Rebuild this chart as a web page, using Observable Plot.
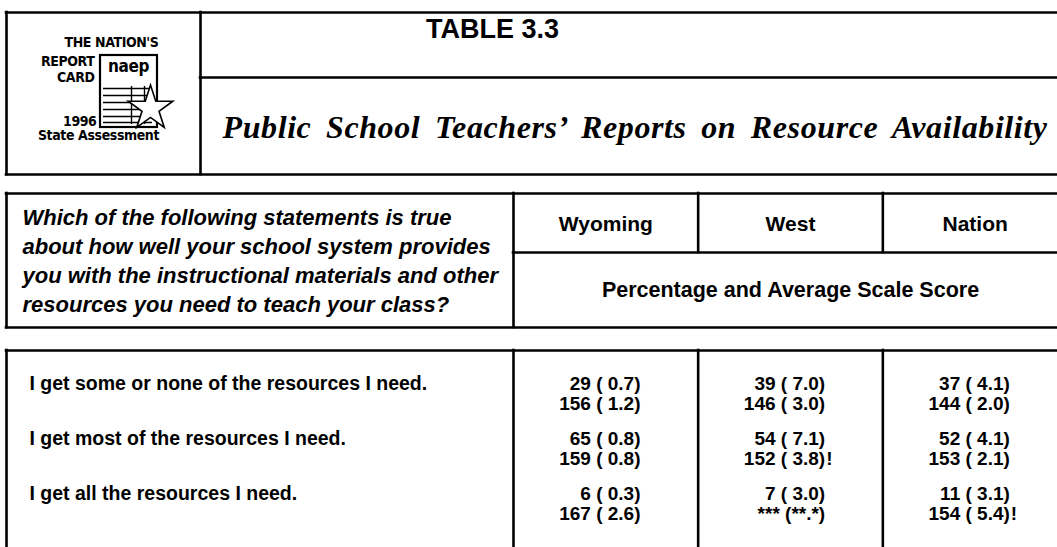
<!DOCTYPE html>
<html><head><meta charset="utf-8">
<script src="https://cdn.jsdelivr.net/npm/d3@7"></script>
<script src="https://cdn.jsdelivr.net/npm/@observablehq/plot@0.6"></script>
<style>
html,body{margin:0;padding:0;background:#fff;}
#chart{width:1057px;height:547px;overflow:hidden;}
</style></head><body><div id="chart"></div>
<script>
// ---------------- data ----------------
const tableNumber = "TABLE 3.3";
const tableTitle = "Public School Teachers’ Reports on Resource Availability";
const logoLines = ["THE NATION'S", "REPORT", "CARD"];
const logoYear = "1996";
const logoFooter = "State Assessment";
const logoMark = "naep";
const questionLines = [
  "Which of the following statements is true",
  "about how well your school system provides",
  "you with the instructional materials and other",
  "resources you need to teach your class?"
];
const jurisdictions = ["Wyoming", "West", "Nation"];
const measureLabel = "Percentage and Average Scale Score";
const responses = [
  "I get some or none of the resources I need.",
  "I get most of the resources I need.",
  "I get all the resources I need."
];
const wyomingPct = [29, 65, 6];
const wyomingPctSE = [0.7, 0.8, 0.3];
const wyomingScore = [156, 159, 167];
const wyomingScoreSE = [1.2, 0.8, 2.6];
const wyomingFlag = ["", "", ""];
const westPct = [39, 54, 7];
const westPctSE = [7.0, 7.1, 3.0];
const westScore = [146, 152, null];
const westScoreSE = [3.0, 3.8, null];
const westFlag = ["", "!", ""];
const nationPct = [37, 52, 11];
const nationPctSE = [4.1, 4.1, 3.1];
const nationScore = [144, 153, 154];
const nationScoreSE = [2.0, 2.1, 5.4];
const nationFlag = ["", "", "!"];

// ---------------- layout (positions / sizes only) ----------------
const layout = {
  W: 1057, H: 547, left: 6,
  headTop: 12, headMid: 77, headBot: 174, headDiv: 200,
  qTop: 193, qMid: 252, qBot: 327,
  dTop: 350, bottom: 547,
  labelDiv: 513, tableRight: 1067,
  rowTop: 356, rowBottom: 521, scoreOffset: 20,
  valueInset: 127
};
const sans = "'Liberation Sans', Arial, Helvetica, sans-serif";
const serif = "'Liberation Serif', 'Times New Roman', serif";
const narrow = "'DejaVu Sans Condensed', 'DejaVu Sans', sans-serif";

// ---------------- build table ----------------
const colScale = Plot.scale({x: {type: "band", domain: jurisdictions, range: [layout.labelDiv, layout.tableRight], padding: 0}});
const rowScale = Plot.scale({y: {type: "band", domain: responses, range: [layout.rowTop, layout.rowBottom], padding: 0}});
const bw = colScale.bandwidth, rh = rowScale.bandwidth;
const colX = j => colScale.apply(j);
const rowY = r => rowScale.apply(r) + rh / 2;

const series = {
  Wyoming: [wyomingPct, wyomingPctSE, wyomingScore, wyomingScoreSE, wyomingFlag],
  West: [westPct, westPctSE, westScore, westScoreSE, westFlag],
  Nation: [nationPct, nationPctSE, nationScore, nationScoreSE, nationFlag]
};
const cells = [];
for (const j of jurisdictions) {
  const [p, pse, s, sse, f] = series[j];
  responses.forEach((r, i) => {
    cells.push({jur: j, resp: r, line: 0, text: `${p[i]} ( ${pse[i].toFixed(1)})`, flag: ""});
    cells.push({jur: j, resp: r, line: 1,
      text: s[i] == null ? "*** (**.*)" : `${s[i]} ( ${sse[i].toFixed(1)})`, flag: f[i]});
  });
}

const L = layout;
const hLines = [
  {y: L.headTop, x1: L.left, x2: L.W},
  {y: L.headMid, x1: L.headDiv, x2: L.W},
  {y: L.headBot, x1: L.left, x2: L.W},
  {y: L.qTop, x1: L.left, x2: L.W},
  {y: L.qMid, x1: L.labelDiv, x2: L.W},
  {y: L.qBot, x1: L.left, x2: L.W},
  {y: L.dTop, x1: L.left, x2: L.W}
];
const vLines = [
  {x: L.left, y1: L.headTop, y2: L.headBot},
  {x: L.headDiv, y1: L.headTop, y2: L.headBot},
  {x: L.left, y1: L.qTop, y2: L.qBot},
  {x: L.labelDiv, y1: L.qTop, y2: L.qBot},
  ...jurisdictions.slice(1).map(j => ({x: colX(j), y1: L.qTop, y2: L.qMid})),
  {x: L.left, y1: L.dTop, y2: L.bottom},
  {x: L.labelDiv, y1: L.dTop, y2: L.bottom},
  ...jurisdictions.slice(1).map(j => ({x: colX(j), y1: L.dTop, y2: L.bottom}))
];

// logo geometry
const logo = {cardX1: 100, cardX2: 157, cardY1: 55, cardY2: 127};
const gridYs = [88, 95, 102, 109, 116, 122];

const plot = Plot.plot({
  width: L.W, height: L.H,
  margin: 0,
  x: {domain: [0, L.W], range: [0, L.W], axis: null},
  y: {domain: [0, L.H], range: [0, L.H], axis: null},
  style: {background: "#fff", fontFamily: sans},
  marks: [
    // table rules
    Plot.ruleY(hLines, {y: "y", x1: "x1", x2: "x2", stroke: "#000", strokeWidth: 2.6, strokeLinecap: "square"}),
    Plot.ruleX(vLines, {x: "x", y1: "y1", y2: "y2", stroke: "#000", strokeWidth: 2.6, strokeLinecap: "square"}),

    // logo card
    Plot.rect([0], {x1: logo.cardX1, x2: logo.cardX2, y1: logo.cardY1, y2: logo.cardY2, fill: "#fff", stroke: "#000", strokeWidth: 2.2}),
    Plot.ruleY(gridYs, {y: d => d, x1: 103, x2: 152, stroke: "#000", strokeWidth: 1.6}),
    Plot.ruleX([131, 144], {x: d => d, y1: 86, y2: 124, stroke: "#000", strokeWidth: 1.4}),
    Plot.dot([0], {x: 150, y: 108, symbol: "star", r: 14, fill: "#fff", stroke: "#000", strokeWidth: 1.6}),
    Plot.text([logoMark], {x: 128, y: 66, text: d => d, fontFamily: narrow, fontWeight: 900, fontSize: 17, fill: "#000", ariaDescription: "logo"}),
    Plot.text(logoLines, {x: (d, i) => i === 0 ? 158 : 94, y: (d, i) => [42, 61, 77][i], text: d => d,
      textAnchor: "end", fontFamily: narrow, fontWeight: "bold", fontSize: 14, fill: "#000", ariaDescription: "logo"}),
    Plot.text([logoYear], {x: 96, y: 121, text: d => d, textAnchor: "end", fontFamily: narrow, fontWeight: "bold", fontSize: 14, fill: "#000", ariaDescription: "logo"}),
    Plot.text([logoFooter], {x: 98, y: 135, text: d => d, fontFamily: narrow, fontWeight: "bold", fontSize: 14, fill: "#000", ariaDescription: "logo"}),

    // header texts
    Plot.text([tableNumber], {x: 492, y: 29, text: d => d, fontFamily: sans, fontWeight: "bold", fontSize: 27, fill: "#000"}),
    Plot.text([tableTitle], {x: 222, y: 127, text: d => d, textAnchor: "start", fontFamily: serif,
      fontWeight: "bold", fontStyle: "italic", fontSize: 32, fill: "#000", ariaDescription: "title"}),

    // question block
    Plot.text(questionLines, {x: 22, y: (d, i) => 217 + 29 * i, text: d => d, textAnchor: "start",
      fontFamily: sans, fontWeight: "bold", fontStyle: "italic", fontSize: 22, fill: "#000"}),
    Plot.text(jurisdictions, {x: j => colX(j) + bw / 2, y: 224, text: d => d,
      fontFamily: sans, fontWeight: "bold", fontSize: 21, fill: "#000"}),
    Plot.text([measureLabel], {x: 790, y: 290, text: d => d, fontFamily: sans, fontWeight: "bold", fontSize: 21.5, fill: "#000"}),

    // response labels
    Plot.text(responses, {x: 29, y: r => rowY(r), text: d => d, textAnchor: "start",
      fontFamily: sans, fontWeight: "bold", fontSize: 19.5, fill: "#000"}),

    // values
    Plot.text(cells, {x: d => colX(d.jur) + L.valueInset, y: d => rowY(d.resp) + d.line * L.scoreOffset,
      text: "text", textAnchor: "end", fontFamily: sans, fontWeight: "bold", fontSize: 19, fill: "#000"}),
    Plot.text(cells.filter(d => d.flag), {x: d => colX(d.jur) + L.valueInset + 1, y: d => rowY(d.resp) + d.line * L.scoreOffset,
      text: "flag", textAnchor: "start", fontFamily: sans, fontWeight: "bold", fontSize: 19, fill: "#000"})
  ]
});
document.getElementById("chart").appendChild(plot);
d3.select(plot).selectAll("g[aria-description=title] text").attr("letter-spacing", "0.6px").attr("word-spacing", "6px");
d3.select(plot).selectAll("g[aria-description=logo]").attr("font-stretch", "condensed").attr("letter-spacing", "-0.4px");
</script>
</body></html>
